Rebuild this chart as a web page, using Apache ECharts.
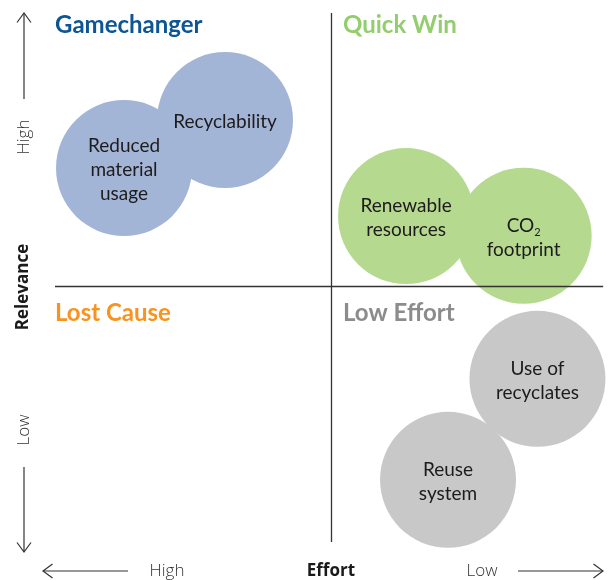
<!DOCTYPE html>
<html>
<head>
<meta charset="utf-8">
<script src="https://cdn.jsdelivr.net/npm/echarts@6/dist/echarts.min.js"></script>
<style>
  html, body { margin: 0; padding: 0; background: #fff; }
  #chart { width: 611px; height: 580px; }
</style>
</head>
<body>
<div id="chart"></div>
<script>
// topics placed on the effort / relevance matrix (0..100 each, 50 = quadrant split)
const topics = ['Reduced\nmaterial\nusage', 'Recyclability', 'Renewable\nresources', 'CO{sub|2}\nfootprint', 'Use of\nrecyclates', 'Reuse\nsystem'];
const effortScore = [12.5, 30.8, 63.6, 84.9, 87.4, 71.2];
const relevanceScore = [71.6, 80.4, 62.8, 59.2, 33.0, 14.5];
const topicGroup = ['Gamechanger', 'Gamechanger', 'Quick Win', 'Quick Win', 'Low Effort', 'Low Effort'];

const quadrantNames = ['Gamechanger', 'Quick Win', 'Lost Cause', 'Low Effort'];
const quadrantColors = ['#0d5595', '#93cd6e', '#f7931e', '#8c8c8c'];
const bubbleColors = { 'Gamechanger': '#a3b5d6', 'Quick Win': '#b5d98f', 'Low Effort': '#c8c8c9' };

const chart = echarts.init(document.getElementById('chart'));

const bubbleSeries = Object.keys(bubbleColors).map(group => ({
    type: 'scatter',
    name: group,
    z: 3,
    symbolSize: 136,
    itemStyle: { color: bubbleColors[group], opacity: 1 },
    label: {
        show: true,
        position: 'inside',
        offset: [0, 2],
        formatter: p => p.name,
        color: '#1e1b1c',
        fontFamily: 'Lato',
        fontSize: 19,
        lineHeight: 24,
        align: 'center',
        rich: {
            sub: { fontSize: 11, fontFamily: 'Lato', color: '#1e1b1c', verticalAlign: 'bottom', lineHeight: 18 }
        }
    },
    emphasis: { disabled: true },
    data: topics
        .map((t, i) => ({ name: t, value: [effortScore[i], relevanceScore[i]], g: topicGroup[i] }))
        .filter(d => d.g === group)
}));

// thin open arrows + axis words
const arrow = (pts) => ({
    type: 'polyline',
    shape: { points: pts },
    style: { stroke: '#333', lineWidth: 1.2, fill: null }
});
const axisWord = (text, x, y, rot, bold) => ({
    type: 'text',
    x, y,
    rotation: rot,
    style: {
        text,
        fill: bold ? '#1a1a1a' : '#333',
        font: (bold ? 'bold 17px' : '300 17px') + ' "Open Sans"',
        align: 'center',
        verticalAlign: 'middle'
    }
});
const quadrantTitle = (i, x, y) => ({
    type: 'text',
    x, y,
    style: {
        text: quadrantNames[i],
        fill: quadrantColors[i],
        font: 'bold 24px Lato',
        align: 'left',
        verticalAlign: 'middle'
    }
});

chart.setOption({
    animation: false,
    grid: { left: 55, top: 13, width: 552, height: 546 },
    xAxis: { type: 'value', min: 0, max: 100, show: false },
    yAxis: { type: 'value', min: 0, max: 100, show: false },
    series: [
        {
            type: 'scatter',
            z: 1,
            data: [],
            markLine: {
                silent: true,
                symbol: 'none',
                label: { show: false },
                lineStyle: { color: '#333', width: 1.3, type: 'solid' },
                data: [
                    [{ coord: [50, 3.1] }, { coord: [50, 100] }],
                    [{ coord: [0, 50] }, { coord: [99.3, 50] }]
                ]
            }
        },
        ...bubbleSeries
    ],
    graphic: [
        arrow([[24, 99], [24, 13]]),
        arrow([[17, 22.5], [24, 13], [31, 22.5]]),
        arrow([[24, 467], [24, 552]]),
        arrow([[17, 542.5], [24, 552], [31, 542.5]]),
        arrow([[128, 571], [43, 571]]),
        arrow([[52.5, 564], [43, 571], [52.5, 578]]),
        arrow([[518, 571], [603, 571]]),
        arrow([[593.5, 564], [603, 571], [593.5, 578]]),
        axisWord('High', 24, 137, Math.PI / 2, false),
        axisWord('Relevance', 23, 287, Math.PI / 2, true),
        axisWord('Low', 24, 430, Math.PI / 2, false),
        axisWord('High', 167, 571, 0, false),
        axisWord('Effort', 331, 571, 0, true),
        axisWord('Low', 482, 571, 0, false),
        quadrantTitle(0, 55, 25),
        quadrantTitle(1, 343, 25),
        quadrantTitle(2, 55, 313),
        quadrantTitle(3, 343, 313)
    ]
});
</script>
</body>
</html>
